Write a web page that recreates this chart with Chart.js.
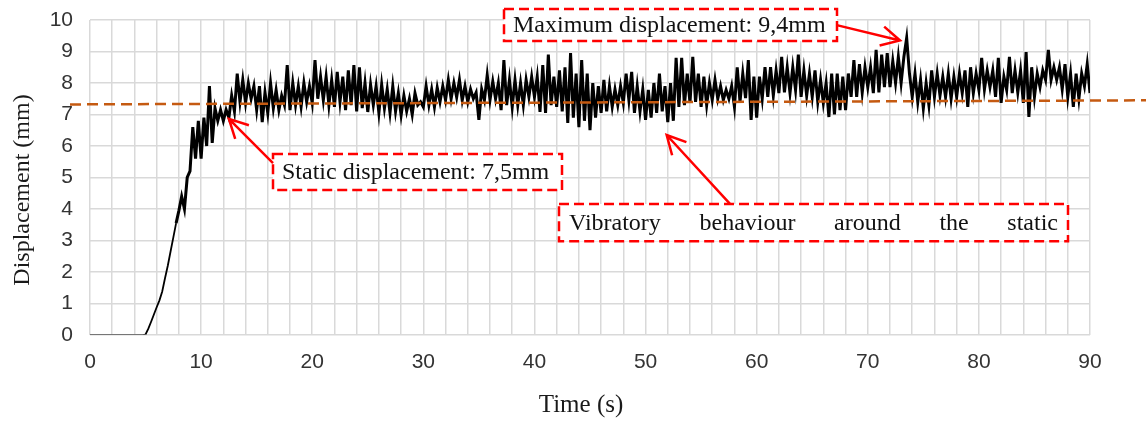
<!DOCTYPE html>
<html>
<head>
<meta charset="utf-8">
<script src="https://cdn.jsdelivr.net/npm/chart.js@4/dist/chart.umd.min.js"></script>
<style>
  html, body { margin: 0; padding: 0; background: #fff; }
  #wrap { width: 1146px; height: 421px; }
</style>
</head>
<body>
<div id="wrap"><canvas id="chart" width="1146" height="421"></canvas></div>
<script>
// displacement (mm), one reading every 0.25 s from t = 0 to t = 90 s
const sampleStep = 0.25;
const displacement = [
  0, 0, 0, 0,   0, 0, 0, 0,   0, 0, 0, 0,   0, 0, 0, 0,   0, 0, 0, 0,
  0.02, 0.2, 0.42, 0.65,   0.88, 1.1, 1.38, 1.8,   2.2, 2.65, 3.1, 3.55,
  3.95, 4.4, 4.0, 5.0,   5.2, 6.6, 5.6, 6.8,   5.6, 6.9, 6.0, 7.9,
  6.1, 7.2, 6.8, 7.15,   6.8, 7.15, 6.9, 7.6,   7.1, 8.3, 7.4, 8.1,
  7.37, 8.0, 7.5, 7.9,   7.14, 7.9, 6.76, 7.7,   7.05, 8.0, 7.2, 7.78,
  7.14, 7.6, 7.3, 8.57,   7.14, 8.0, 7.3, 7.9,   7.25, 8.0, 7.4, 7.9,
  7.37, 8.73, 7.5, 8.2,   7.46, 8.2, 7.3, 8.1,   7.24, 8.35, 7.4, 8.2,
  7.14, 8.4, 7.3, 8.57,   7.1, 8.5, 7.2, 8.0,   7.08, 7.95, 7.3, 7.9,
  7.05, 7.95, 7.2, 7.8,   7.05, 7.9, 7.1, 7.68,   6.98, 7.6, 7.1, 7.5,
  7.0, 7.68, 7.3, 7.4,   7.24, 7.9, 7.3, 7.8,   7.24, 7.85, 7.4, 7.9,
  7.46, 8.1, 7.5, 8.0,   7.55, 8.1, 7.45, 7.9,   7.4, 7.8, 7.5, 7.7,
  6.83, 7.8, 7.46, 8.25,   7.46, 8.05, 7.5, 8.0,   7.14, 8.73, 7.3, 8.1,
  7.24, 8.1, 7.3, 8.0,   7.3, 8.1, 7.56, 8.2,   7.56, 8.2, 7.08, 8.57,
  7.05, 8.9, 7.3, 8.2,   7.24, 8.4, 7.1, 8.5,   6.73, 8.95, 6.9, 8.3,
  6.6, 8.73, 6.8, 8.3,   6.5, 8.0, 6.9, 7.9,   7.05, 8.1, 7.1, 7.9,
  7.24, 7.8, 7.3, 7.9,   7.37, 8.3, 7.46, 8.35,   7.05, 7.9, 7.1, 7.8,
  6.83, 7.78, 6.9, 8.0,   7.05, 8.3, 7.1, 7.9,   6.76, 8.0, 6.8, 8.8,
  7.24, 8.8, 7.3, 8.3,   7.37, 8.83, 7.4, 8.3,   7.24, 8.2, 7.3, 8.0,
  7.46, 8.1, 7.5, 7.9,   7.46, 7.78, 7.5, 7.9,   7.24, 8.5, 7.4, 8.3,
  7.52, 8.73, 6.83, 8.2,   6.9, 8.2, 7.5, 8.5,   7.56, 8.5, 7.6, 8.4,
  7.68, 8.83, 7.7, 8.5,   7.68, 8.5, 7.78, 8.9,   7.56, 8.4, 7.6, 8.3,
  7.56, 8.4, 7.4, 8.1,   7.37, 8.0, 6.92, 8.3,   7.0, 8.3, 7.14, 8.2,
  7.14, 8.3, 7.56, 8.73,   7.56, 8.6, 7.7, 8.5,   7.87, 8.5, 7.68, 9.05,
  7.7, 8.9, 7.87, 8.95,   7.87, 8.7, 8.0, 8.83,   8.0, 8.83, 9.43, 8.3,
  7.56, 8.3, 7.4, 8.1,   7.2, 8.0, 7.3, 8.4,   7.56, 8.3, 7.6, 8.2,
  7.56, 8.3, 7.5, 8.2,   7.56, 8.3, 7.68, 8.4,   7.24, 8.5, 7.68, 8.3,
  7.78, 8.8, 7.8, 8.4,   7.87, 8.4, 7.56, 8.8,   7.37, 8.2, 7.78, 8.83,
  7.68, 8.4, 7.7, 8.4,   7.37, 8.98, 6.92, 8.5,   7.56, 8.3, 7.87, 8.4,
  8.1, 9.05, 8.1, 8.5,   8.1, 8.5, 7.8, 8.6,   7.56, 8.3, 7.24, 8.3,
  7.5, 8.3, 7.9, 8.6,
  7.68
];

const xTickLabels = [0, 10, 20, 30, 40, 50, 60, 70, 80, 90];
const yTickLabels = [0, 1, 2, 3, 4, 5, 6, 7, 8, 9, 10];

// hand drawn static level (slightly tilted in the original)
const staticLineX = [-1.8, 95.1];
const staticLineY = [7.32, 7.45];

const notes = [
  { text: 'Maximum displacement: 9,4mm', box: [37.26, 10.35, 67.23, 9.33],
    from: [67.3, 9.83], to: [72.9, 9.35] },
  { text: 'Static displacement: 7,5mm', box: [16.47, 5.75, 42.48, 4.6],
    from: [16.47, 5.46], to: [12.5, 6.86] },
  { text: 'Vibratory behaviour around the static', box: [42.21, 4.16, 88.02, 2.98],
    from: [57.6, 4.16], to: [51.9, 6.35], justify: true }
];

const serif = '"Liberation Serif", "Times New Roman", serif';
const points = displacement.map((v, i) => ({ x: i * sampleStep, y: v }));

const annotate = {
  id: 'annotate',
  afterDatasetsDraw(chart) {
    const ctx = chart.ctx;
    const xs = chart.scales.x, ys = chart.scales.y;
    const px = v => xs.getPixelForValue(v);
    const py = v => ys.getPixelForValue(v);

    ctx.save();
    // static displacement line
    ctx.strokeStyle = '#C55A11';
    ctx.lineWidth = 2.5;
    ctx.setLineDash([11, 6]);
    ctx.beginPath();
    ctx.moveTo(px(staticLineX[0]), py(staticLineY[0]));
    ctx.lineTo(px(staticLineX[1]), py(staticLineY[1]));
    ctx.stroke();

    ctx.font = '24px ' + serif;
    ctx.textBaseline = 'middle';
    notes.forEach(n => {
      const x1 = px(n.box[0]), y1 = py(n.box[1]);
      const x2 = px(n.box[2]), y2 = py(n.box[3]);
      ctx.setLineDash([]);
      ctx.fillStyle = '#fff';
      ctx.fillRect(x1, y1, x2 - x1, y2 - y1);
      ctx.strokeStyle = '#FF0000';
      ctx.lineWidth = 2.5;
      ctx.setLineDash([10, 5]);
      ctx.strokeRect(x1, y1, x2 - x1, y2 - y1);

      ctx.fillStyle = '#111';
      const ty = (y1 + y2) / 2 + 1;
      if (n.justify) {
        const words = n.text.split(' ');
        const widths = words.map(w => ctx.measureText(w).width);
        const total = widths.reduce((a, b) => a + b, 0);
        const left = x1 + 10, right = x2 - 10;
        const gap = (right - left - total) / (words.length - 1);
        let cx = left;
        words.forEach((w, i) => { ctx.fillText(w, cx, ty); cx += widths[i] + gap; });
      } else {
        ctx.fillText(n.text, x1 + 9, ty);
      }

      // arrow
      const ax = px(n.from[0]), ay = py(n.from[1]);
      const bx = px(n.to[0]), by = py(n.to[1]);
      ctx.setLineDash([]);
      ctx.lineWidth = 2.5;
      ctx.beginPath();
      ctx.moveTo(ax, ay);
      ctx.lineTo(bx, by);
      const ang = Math.atan2(by - ay, bx - ax);
      const head = 21, spread = 0.48;
      ctx.moveTo(bx - head * Math.cos(ang - spread), by - head * Math.sin(ang - spread));
      ctx.lineTo(bx, by);
      ctx.lineTo(bx - head * Math.cos(ang + spread), by - head * Math.sin(ang + spread));
      ctx.stroke();
    });

    // axis titles
    ctx.fillStyle = '#1a1a1a';
    ctx.textAlign = 'center';
    ctx.font = '25px ' + serif;
    ctx.fillText('Time (s)', 581, 405);
    ctx.translate(23, 190);
    ctx.rotate(-Math.PI / 2);
    ctx.font = '24px ' + serif;
    ctx.fillText('Displacement (mm)', 0, 0);
    ctx.restore();
  }
};

new Chart(document.getElementById('chart').getContext('2d'), {
  type: 'line',
  data: {
    datasets: [{
      data: points,
      borderColor: '#000',
      borderWidth: 3,
      pointRadius: 0,
      tension: 0,
      fill: false,
      segment: {
        borderWidth: c => c.p0.parsed.x < 5 ? 1.5 : (c.p0.parsed.x < 7.75 ? 1.8 : 3),
        borderColor: c => c.p0.parsed.x < 5 ? '#555' : '#000'
      }
    }]
  },
  options: {
    responsive: false,
    animation: false,
    layout: { padding: { top: 20, right: 56, left: 0, bottom: 0 } },
    plugins: { legend: { display: false }, tooltip: { enabled: false } },
    scales: {
      x: {
        type: 'linear',
        min: 0,
        max: 90,
        afterFit: s => { s.height = 86; s.paddingLeft = 0; s.paddingRight = 0; },
        border: { display: false },
        grid: { color: '#d9d9d9', lineWidth: 1.5, drawTicks: false },
        ticks: {
          stepSize: 2,
          autoSkip: false,
          maxRotation: 0,
          padding: 15,
          color: '#333',
          font: { family: '"Liberation Sans", Arial, sans-serif', size: 21 },
          callback: v => xTickLabels.includes(v) ? String(v) : ''
        }
      },
      y: {
        min: 0,
        max: 10,
        afterFit: s => { s.width = 90; s.paddingTop = 0; s.paddingBottom = 0; },
        border: { display: false },
        grid: { color: '#d9d9d9', lineWidth: 1.5, drawTicks: false },
        ticks: {
          stepSize: 1,
          padding: 17,
          color: '#333',
          font: { family: '"Liberation Sans", Arial, sans-serif', size: 21 },
          callback: v => yTickLabels.includes(v) ? String(v) : ''
        }
      }
    }
  },
  plugins: [annotate]
});
</script>
</body>
</html>
